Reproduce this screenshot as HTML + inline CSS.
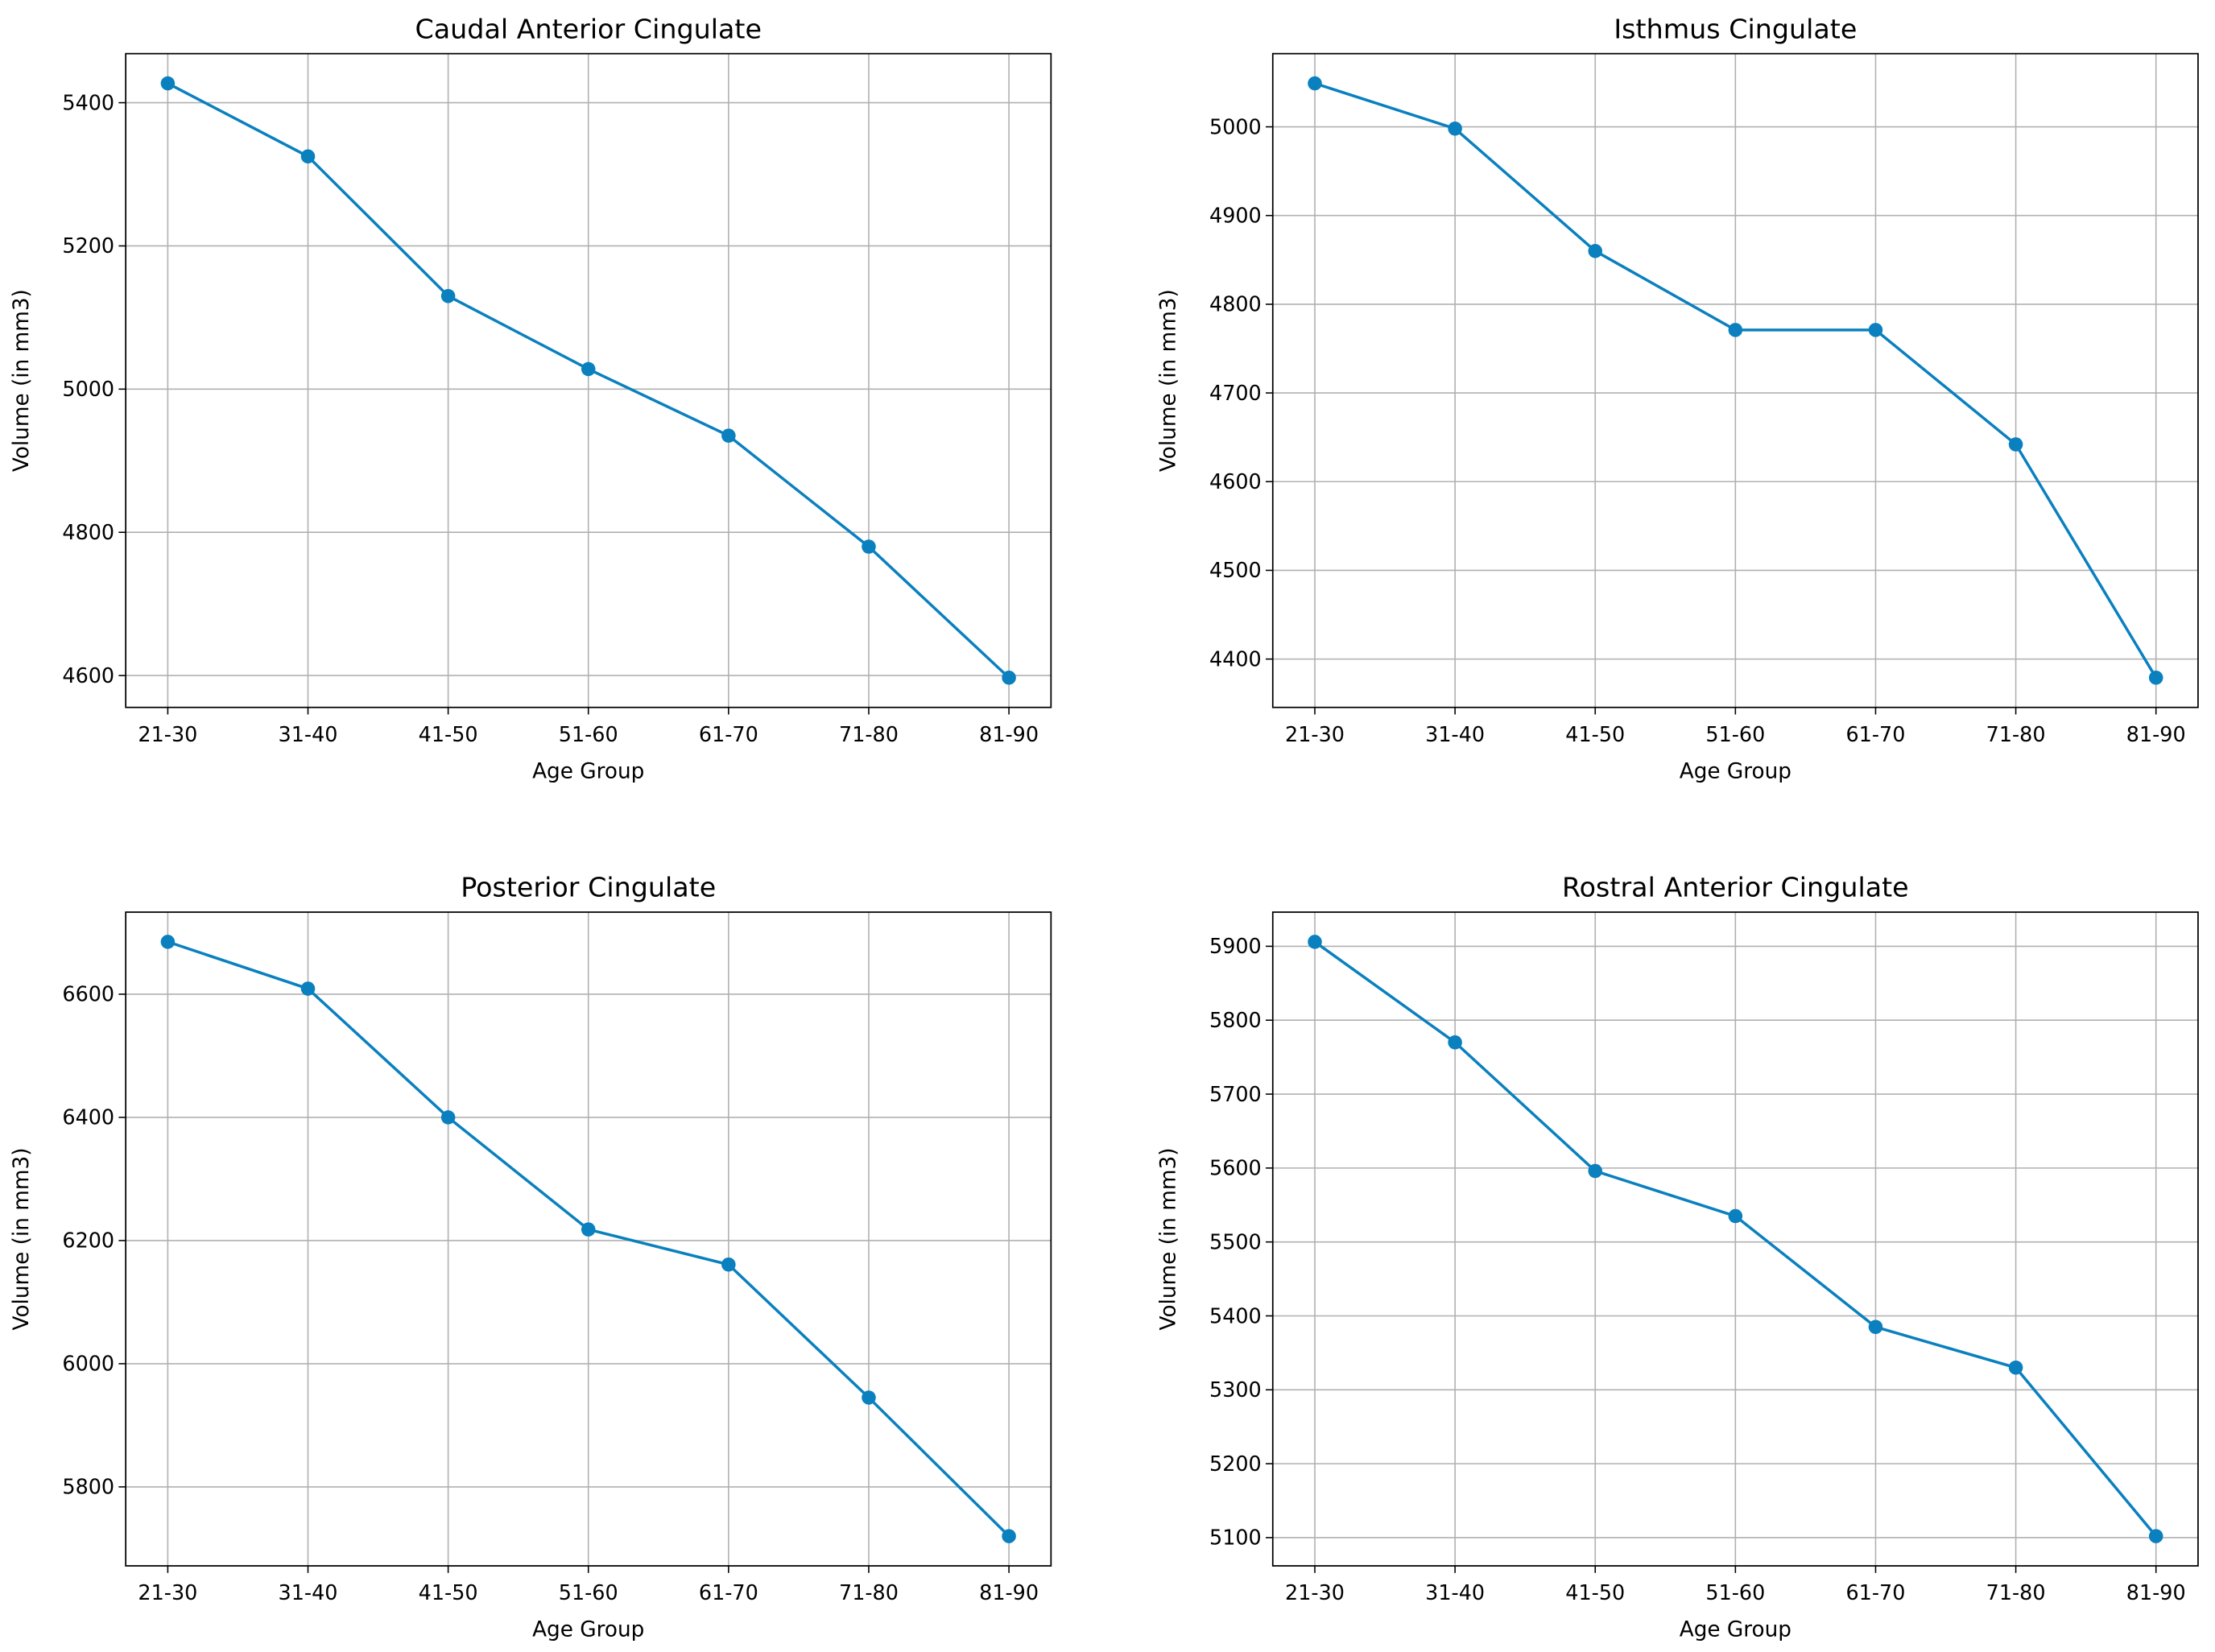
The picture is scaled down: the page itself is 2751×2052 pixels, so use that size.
<!DOCTYPE html>
<html><head><meta charset="utf-8"><style>
html,body{margin:0;padding:0;background:#fff}
svg{display:block}
text{font-family:"DejaVu Sans","Liberation Sans",sans-serif;fill:#000}
</style></head><body>
<svg id="chart" width="2751" height="2052" viewBox="0 0 1568 1170" preserveAspectRatio="none" xmlns="http://www.w3.org/2000/svg"></svg>
<script>
const categories = ["21-30","31-40","41-50","51-60","61-70","71-80","81-90"];
const titles = ["Caudal Anterior Cingulate","Isthmus Cingulate","Posterior Cingulate","Rostral Anterior Cingulate"];
const caudalValues = [5427,5325,5130,5028,4935,4780,4597];
const isthmusValues = [5049,4998,4860,4771,4771,4642,4379];
const posteriorValues = [6685,6609,6400,6218,6161,5945,5720];
const rostralValues = [5906,5770,5596,5535,5385,5330,5102];
const caudalTicks = [4600,4800,5000,5200,5400];
const isthmusTicks = [4400,4500,4600,4700,4800,4900,5000];
const posteriorTicks = [5800,6000,6200,6400,6600];
const rostralTicks = [5100,5200,5300,5400,5500,5600,5700,5800,5900];

const NS="http://www.w3.org/2000/svg";
const svg=document.getElementById('chart');
function mk(tag,attrs,parent){const e=document.createElementNS(NS,tag);for(const k in attrs)e.setAttribute(k,attrs[k]);(parent||svg).appendChild(e);return e;}
const panels=[
 {x0:89,y0:38,vals:caudalValues,ticks:caudalTicks,key:'caudal'},
 {x0:901,y0:38,vals:isthmusValues,ticks:isthmusTicks,key:'isthmus'},
 {x0:89,y0:646,vals:posteriorValues,ticks:posteriorTicks,key:'posterior'},
 {x0:901,y0:646,vals:rostralValues,ticks:rostralTicks,key:'rostral'}];
const W=655,H=463,color="#0a80bf";
panels.forEach((p,i)=>{
 const g=mk('g',{});
 
 
 const mn=Math.min(...p.vals),mx=Math.max(...p.vals),pad=(mx-mn)*0.05;
 const lo=mn-pad,hi=mx+pad;
 const n=categories.length;
 const xs=j=>p.x0+W*(j+0.3)/(n-1+0.6);
 const ys=v=>p.y0+H*(hi-v)/(hi-lo);
 categories.forEach((c,j)=>{
  const x=xs(j);
  const l=mk('line',{x1:x,x2:x,y1:p.y0,y2:p.y0+H,stroke:'#b0b0b0','stroke-width':0.9},g);
  
  
  mk('line',{x1:x,x2:x,y1:p.y0+H,y2:p.y0+H+5,stroke:'#000','stroke-width':0.9},g);
  const t=mk('text',{x:x,y:p.y0+H+24,'text-anchor':'middle','font-size':14.5},g);
  t.textContent=c;
  
  
 });
 p.ticks.forEach(v=>{
  const y=ys(v);
  const l=mk('line',{x1:p.x0,x2:p.x0+W,y1:y,y2:y,stroke:'#b0b0b0','stroke-width':0.9},g);
  
  
  mk('line',{x1:p.x0-5,x2:p.x0,y1:y,y2:y,stroke:'#000','stroke-width':0.9},g);
  const t=mk('text',{x:p.x0-8,y:y+5,'text-anchor':'end','font-size':14.5},g);
  t.textContent=v;
  
  
 });
 const line=mk('polyline',{points:p.vals.map((v,j)=>xs(j)+','+ys(v)).join(' '),fill:'none',stroke:color,'stroke-width':2},g);
 
 
 p.vals.forEach((v,j)=>{
  const c=mk('circle',{cx:xs(j),cy:ys(v),r:5,fill:color},g);
  
  
 });
 const box=mk('rect',{x:p.x0,y:p.y0,width:W,height:H,fill:'none',stroke:'#000','stroke-width':1},g);
 
 
 const tt=mk('text',{x:p.x0+W/2,y:p.y0-11,'text-anchor':'middle','font-size':19},g);
 tt.textContent=titles[i];
 
 
 const xl=mk('text',{x:p.x0+W/2,y:p.y0+H+50,'text-anchor':'middle','font-size':15},g);
 xl.textContent='Age Group';
 
 
 const cy=p.y0+H/2;
 const yl=mk('text',{x:p.x0-69,y:cy,'text-anchor':'middle','font-size':15,transform:`rotate(-90 ${p.x0-69} ${cy})`},g);
 yl.textContent='Volume (in mm3)';
 
 
});
</script>
</body></html>
